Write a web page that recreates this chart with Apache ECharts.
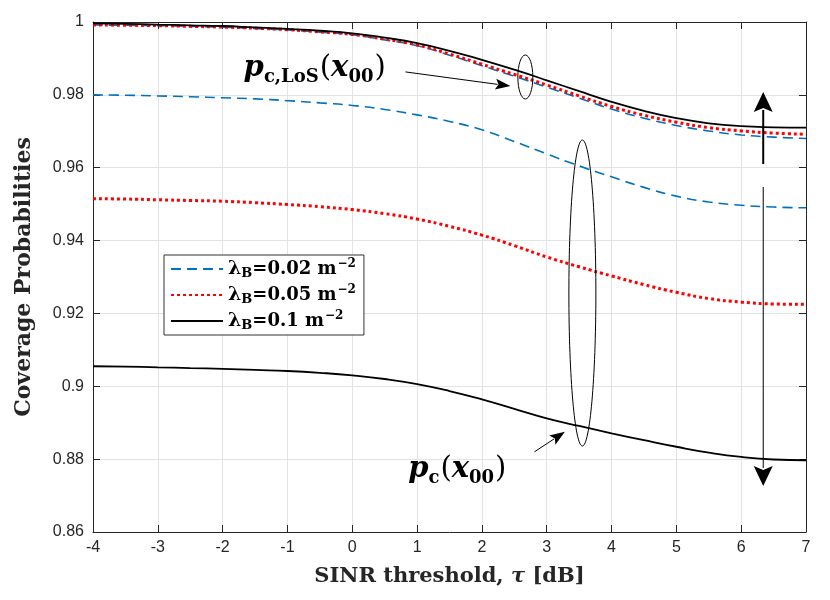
<!DOCTYPE html>
<html>
<head>
<meta charset="utf-8">
<script src="https://cdn.jsdelivr.net/npm/echarts@6/dist/echarts.min.js"></script>
<style>
html,body{margin:0;padding:0;background:#fff}
#chart{width:830px;height:600px}
</style>
</head>
<body>
<div id="chart"></div>
<script>
// SINR threshold tau [dB]
var tau = [-4,-3.5,-3,-2.5,-2,-1.5,-1,-0.5,0,0.5,1,1.5,2,2.5,3,3.5,4,4.5,5,5.5,6,6.5,7];

// p_c,LoS(x00)
var los002 = [0.9992,0.9991,0.9990,0.9988,0.9986,0.9982,0.9978,0.9972,0.9965,0.9951,0.9935,0.9909,0.9880,0.9851,0.9821,0.9791,0.9761,0.9736,0.9716,0.9701,0.9690,0.9684,0.9680];
var los005 = [0.9992,0.9991,0.9990,0.9988,0.9986,0.9983,0.9979,0.9973,0.9966,0.9953,0.9937,0.9912,0.9884,0.9856,0.9827,0.9797,0.9768,0.9744,0.9725,0.9710,0.9701,0.9695,0.9692];
var los01  = [0.9996,0.9995,0.9993,0.9991,0.9989,0.9985,0.9981,0.9976,0.9969,0.9957,0.9942,0.9921,0.9896,0.9869,0.9840,0.9810,0.9781,0.9756,0.9736,0.9722,0.9714,0.9711,0.9710];

// p_c(x00)
var pc002 = [0.9800,0.9799,0.9797,0.9795,0.9792,0.9789,0.9784,0.9778,0.9771,0.9760,0.9745,0.9727,0.9704,0.9672,0.9638,0.9605,0.9575,0.9546,0.9522,0.9506,0.9497,0.9492,0.9490];
var pc005 = [0.9515,0.9514,0.9512,0.9510,0.9508,0.9504,0.9499,0.9493,0.9485,0.9474,0.9459,0.9439,0.9415,0.9386,0.9355,0.9328,0.9303,0.9279,0.9258,0.9241,0.9231,0.9226,0.9225];
var pc01  = [0.9055,0.9054,0.9052,0.9050,0.9048,0.9045,0.9042,0.9037,0.9030,0.9020,0.9006,0.8987,0.8964,0.8938,0.8912,0.8891,0.8871,0.8852,0.8834,0.8818,0.8806,0.8799,0.8797];

var names = ['0.02', '0.05', '0.1'];

function pairs(ys) {
    return tau.map(function (t, i) { return [t, ys[i]]; });
}

var serif = 'DejaVu Serif';
var sans = 'Liberation Sans';
var blue = '#0072BD';
var red = '#FF0000';

var styles = [
    {color: blue, width: 1.6, type: [10, 6]},
    {color: red, width: 3, type: [3, 3]},
    {color: '#000', width: 1.8, type: 'solid'}
];

function mk(name, ys, k, showInLegend) {
    return {
        name: showInLegend ? name : name + '_los',
        type: 'line',
        data: pairs(ys),
        smooth: true,
        showSymbol: false,
        symbol: 'none',
        z: k === 0 ? 3 : (k === 1 ? 4 : 5),
        lineStyle: {color: styles[k].color, width: styles[k].width, type: styles[k].type, cap: 'butt'},
        itemStyle: {color: styles[k].color},
        emphasis: {disabled: true}
    };
}

var chart = echarts.init(document.getElementById('chart'));

var axisCol = '#262626';

var option = {
    animation: false,
    backgroundColor: '#fff',
    grid: {left: 93, right: 24, top: 22, bottom: 68, containLabel: false},
    legend: {
        data: names,
        orient: 'vertical',
        left: 164,
        top: 255,
        backgroundColor: '#fff',
        borderColor: '#333',
        borderWidth: 1,
        borderRadius: 0,
        padding: [3, 8, 3, 6],
        itemGap: 4,
        itemWidth: 52,
        itemHeight: 14,
        itemStyle: {opacity: 0},
        formatter: function (n) {
            return '{l|λ}{s|B}{t|=' + n + ' m}{e|−2}';
        },
        textStyle: {
            fontFamily: serif,
            fontWeight: 'bold',
            fontSize: 18,
            color: '#000',
            rich: {
                l: {fontFamily: serif, fontWeight: 'bold', fontSize: 19, color: '#000', lineHeight: 22, verticalAlign: 'middle'},
                s: {fontFamily: serif, fontWeight: 'bold', fontSize: 13, color: '#000', lineHeight: 22, verticalAlign: 'bottom', padding: [0, 0, 0, 0]},
                t: {fontFamily: serif, fontWeight: 'bold', fontSize: 18, color: '#000', lineHeight: 22, verticalAlign: 'middle'},
                e: {fontFamily: serif, fontWeight: 'bold', fontSize: 12, color: '#000', lineHeight: 22, verticalAlign: 'top', padding: [0, 0, 0, 1]}
            }
        }
    },
    xAxis: [{
        type: 'value',
        min: -4, max: 7, interval: 1,
        name: 'SINR threshold, {i|τ} [dB]',
        nameLocation: 'middle',
        nameGap: 34,
        nameTextStyle: {
            fontFamily: serif, fontWeight: 'bold', fontSize: 21, color: axisCol,
            rich: {i: {fontFamily: serif, fontWeight: 'bold', fontStyle: 'italic', fontSize: 21, color: axisCol}}
        },
        axisLine: {show: true, onZero: false, lineStyle: {color: axisCol, width: 1}},
        axisTick: {show: true, inside: true, length: 7, lineStyle: {color: axisCol}},
        axisLabel: {fontFamily: sans, fontSize: 16, color: axisCol, margin: 8},
        splitLine: {show: true, lineStyle: {color: '#e3e3e3', width: 1}}
    }, {
        type: 'value',
        position: 'top',
        min: -4, max: 7, interval: 1,
        axisLine: {show: true, onZero: false, lineStyle: {color: axisCol, width: 1}},
        axisTick: {show: true, inside: true, length: 7, lineStyle: {color: axisCol}},
        axisLabel: {show: false},
        splitLine: {show: false}
    }],
    yAxis: [{
        type: 'value',
        min: 0.86, max: 1, interval: 0.02,
        name: 'Coverage Probabilities',
        nameLocation: 'middle',
        nameGap: 58,
        nameTextStyle: {fontFamily: serif, fontWeight: 'bold', fontSize: 22, color: axisCol},
        axisLine: {show: true, onZero: false, lineStyle: {color: axisCol, width: 1}},
        axisTick: {show: true, inside: true, length: 7, lineStyle: {color: axisCol}},
        axisLabel: {
            fontFamily: sans, fontSize: 16, color: axisCol, margin: 9,
            formatter: function (v) { return String(+v.toFixed(2)); }
        },
        splitLine: {show: true, lineStyle: {color: '#e3e3e3', width: 1}}
    }, {
        type: 'value',
        position: 'right',
        min: 0.86, max: 1, interval: 0.02,
        axisLine: {show: true, onZero: false, lineStyle: {color: axisCol, width: 1}},
        axisTick: {show: true, inside: true, length: 7, lineStyle: {color: axisCol}},
        axisLabel: {show: false},
        splitLine: {show: false}
    }],
    series: [
        mk(names[0], pc002, 0, true),
        mk(names[1], pc005, 1, true),
        mk(names[2], pc01, 2, true),
        mk(names[0], los002, 0, false),
        mk(names[1], los005, 1, false),
        mk(names[2], los01, 2, false)
    ]
};

chart.setOption(option);

// annotations, anchored in data coordinates
function px(p) { return chart.convertToPixel({xAxisIndex: 0, yAxisIndex: 0}, p); }

function arrow(a, b, headLen, headW, lw) {
    var p0 = px(a), p1 = px(b);
    var dx = p1[0] - p0[0], dy = p1[1] - p0[1];
    var L = Math.sqrt(dx * dx + dy * dy);
    var ux = dx / L, uy = dy / L;
    var bx = p1[0] - ux * headLen, by = p1[1] - uy * headLen;
    return [{
        type: 'line', z: 100,
        shape: {x1: p0[0], y1: p0[1], x2: bx + ux * 2, y2: by + uy * 2},
        style: {stroke: '#000', lineWidth: lw}
    }, {
        type: 'polygon', z: 100,
        shape: {points: [[p1[0], p1[1]], [bx - uy * headW / 2, by + ux * headW / 2], [bx + ux * headLen * 0.2, by + uy * headLen * 0.2], [bx + uy * headW / 2, by - ux * headW / 2]]},
        style: {fill: '#000'}
    }];
}

function ellipse(c, rx, ry) {
    var p = px(c);
    return {type: 'ellipse', z: 100, shape: {cx: p[0], cy: p[1], rx: rx, ry: ry}, style: {fill: null, stroke: '#000', lineWidth: 1}};
}

var mathRich = {
    v: {fontFamily: serif, fontWeight: 'bold', fontStyle: 'italic', fontSize: 29, color: '#000', lineHeight: 36, verticalAlign: 'middle'},
    s: {fontFamily: serif, fontWeight: 'bold', fontSize: 18, color: '#000', lineHeight: 36, verticalAlign: 'bottom', padding: [0, 1, 0, 0]},
    b: {fontFamily: serif, fontSize: 29, color: '#000', lineHeight: 36, verticalAlign: 'middle'}
};

function label(c, txt) {
    var p = px(c);
    return {
        type: 'text', z: 100, x: p[0], y: p[1],
        style: {text: txt, rich: mathRich, align: 'center', verticalAlign: 'middle', fill: '#000'}
    };
}

var els = [];
els.push(ellipse([2.67, 0.9849], 7.5, 22));
els.push(ellipse([3.55, 0.9256], 13.5, 153));
els = els.concat(arrow([0.82, 0.9863], [2.44, 0.9824], 15, 11, 1));
els = els.concat(arrow([2.81, 0.8820], [3.28, 0.8875], 15, 11, 1));
els = els.concat(arrow([6.34, 0.9610], [6.34, 0.9808], 20, 19, 2));
els = els.concat(arrow([6.34, 0.9547], [6.34, 0.8726], 20, 19, 1));
els.push(label([-0.58, 0.9873], '{v|p}{s|c,LoS}{b|(}{v|x}{s|00}{b|)}'));
els.push(label([1.62, 0.8771], '{v|p}{s|c}{b|(}{v|x}{s|00}{b|)}'));

chart.setOption({graphic: {elements: els}});
</script>
</body>
</html>
